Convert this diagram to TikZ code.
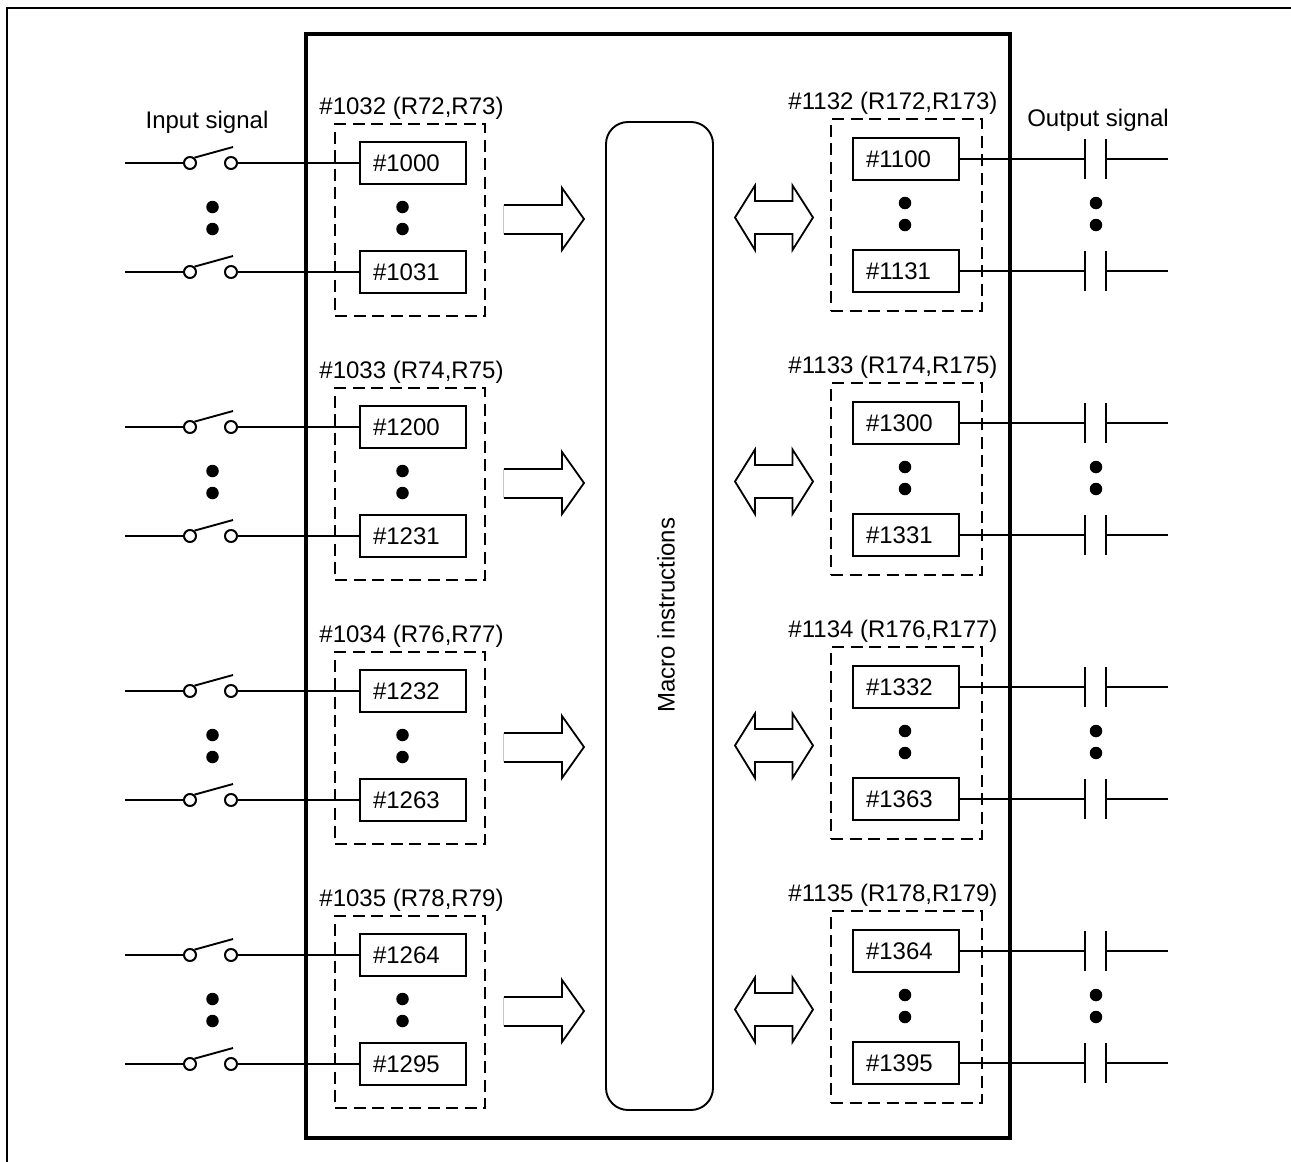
\documentclass[tikz,border=0pt]{standalone}
\usepackage{fontspec}
\setmainfont{Liberation Sans}
\tikzset{
  x=1pt,y=-1pt,
  txt/.style={inner sep=0pt,font=\fontsize{24}{28}\selectfont},
  frame/.style={line width=2pt},
  mainbox/.style={line width=4pt,outer sep=0pt},
  wire/.style={line width=1.9pt},
  owire/.style={line width=2.2pt},
  regbox/.style={draw,line width=2pt,fill=white,minimum height=42pt,text width=80pt,inner xsep=13pt,inner ysep=0pt,align=left,font=\fontsize{24}{28}\selectfont},
  dashbox/.style={draw,line width=2pt,dash pattern=on 12pt off 6.5pt,inner sep=0pt},
  contact/.style={circle,draw,line width=2pt,fill=white,minimum size=12pt,inner sep=0pt},
  blackdot/.style={circle,fill=black,minimum size=12.5pt,inner sep=0pt},
  blockarrow/.style={line width=1.8pt,line join=miter,fill=white},
}
\begin{document}
\begin{tikzpicture}
\useasboundingbox (0,0) rectangle (1291,1162);
\draw[frame] (7,1162) -- (7,8) -- (1291,8);
\node[draw,mainbox,minimum width=704pt,minimum height=1104pt,anchor=north west,inner sep=0pt] (main) at (305.5,34) {};
\node[draw,line width=1.9pt,outer sep=0pt,rounded corners=22pt,minimum width=107pt,minimum height=988pt,anchor=north west,inner sep=0pt] (macro) at (606,122) {};
\node[txt,rotate=90] (macrotext) at (666,615) {Macro instructions};
\node[txt] (inlabel) at (207,122.5) {Input signal};
\node[txt] (outlabel) at (1098,120.5) {Output signal};
% input side
\foreach \n/\off/\lab/\ra/\rb in {1/0/{\#1032 (R72,R73)}/{\#1000}/{\#1031},2/264/{\#1033 (R74,R75)}/{\#1200}/{\#1231},3/528/{\#1034 (R76,R77)}/{\#1232}/{\#1263},4/792/{\#1035 (R78,R79)}/{\#1264}/{\#1295}}{
  \begin{scope}[yshift=-\off pt]
    \node[txt] (il\n) at (411.5,108.5) {\lab};
    \node[dashbox,minimum width=150pt,minimum height=192pt] (id\n) at (410,220) {};
    \node[regbox] (ia\n) at (413,163) {\raisebox{-1pt}{\ra}};
    \node[regbox] (ib\n) at (413,272) {\raisebox{-1pt}{\rb}};
    \foreach \s/\y/\r in {a/163/ia,b/272/ib}{
      \coordinate (w\s\n) at (125,\y);
      \node[contact] (c\s\n) at (190,\y) {};
      \node[contact] (d\s\n) at (231,\y) {};
      \coordinate (t\s\n) at (233,\y-16);
      \draw[wire] (w\s\n) -- (c\s\n);
      \draw[wire] (c\s\n.50) -- (t\s\n);
      \draw[wire] (d\s\n) -- (\r\n);
    }
    \node[blackdot] (p\n) at (212.5,207) {};
    \node[blackdot] (q\n) at (212.5,229) {};
    \node[blackdot] (r\n) at (402.5,207) {};
    \node[blackdot] (s\n) at (402.5,229) {};
    \draw[line width=1.8pt,gray!45] (504,205) -- (504,234);
    \draw[blockarrow] (504,205) -- (562,205) -- (562,188) -- (584,219) -- (562,250) -- (562,234) -- (504,234);
  \end{scope}
}
% output side
\foreach \n/\off/\lab/\ra/\rb in {1/0/{\#1132 (R172,R173)}/{\#1100}/{\#1131},2/264/{\#1133 (R174,R175)}/{\#1300}/{\#1331},3/528/{\#1134 (R176,R177)}/{\#1332}/{\#1363},4/792/{\#1135 (R178,R179)}/{\#1364}/{\#1395}}{
  \begin{scope}[yshift=-\off pt]
    \node[txt] (ol\n) at (893,103.5) {\lab};
    \node[dashbox,minimum width=151pt,minimum height=192pt] (od\n) at (906.5,215) {};
    \node[regbox] (oa\n) at (906,159) {\ra};
    \node[regbox] (ob\n) at (906,271) {\rb};
    \foreach \s/\y/\r in {a/159/oa,b/271/ob}{
      \coordinate (pl\s\n) at (1085,\y);
      \coordinate (pr\s\n) at (1106,\y);
      \coordinate (e\s\n) at (1168,\y);
      \draw[owire] (\r\n) -- (pl\s\n);
      \draw[owire] (pr\s\n) -- (e\s\n);
      \draw[owire] (1085,\y-20) -- (1085,\y+20);
      \draw[owire] (1106,\y-20) -- (1106,\y+20);
    }
    \node[blackdot] (u\n) at (905,203) {};
    \node[blackdot] (v\n) at (905,225) {};
    \node[blackdot] (x\n) at (1096,203) {};
    \node[blackdot] (z\n) at (1096,225) {};
    \draw[blockarrow] (735,217.5) -- (755,185.5) -- (755,201) -- (792.5,201) -- (792.5,185.5) -- (813,217.5) -- (792.5,250) -- (792.5,234) -- (755,234) -- (755,250) -- cycle;
  \end{scope}
}
\end{tikzpicture}
\end{document}
